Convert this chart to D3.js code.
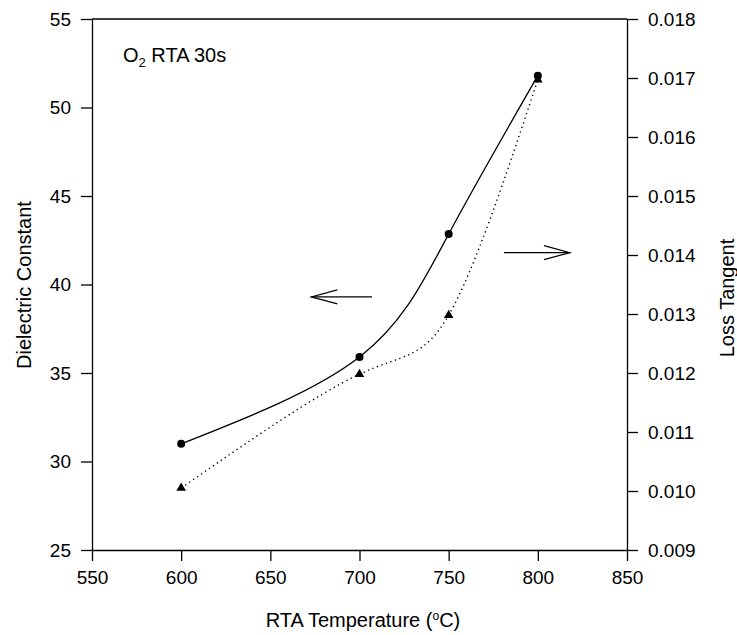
<!DOCTYPE html>
<html>
<head>
<meta charset="utf-8">
<script src="https://cdn.jsdelivr.net/npm/d3@7"></script>
<style>
  body { margin: 0; background: #fff; }
  svg { font-family: Arial, "Liberation Sans", sans-serif; }
  .axis path, .axis line { stroke: #000; stroke-width: 1.3; }
  .axis text { font-size: 19px; fill: #000; }
</style>
</head>
<body>
<div id="chart"></div>
<script>
// data
const temps = [600, 700, 750, 800]
const dielectric = [31.0, 35.9, 42.85, 51.8]
const lossTangent = [0.01005, 0.01198, 0.01298, 0.01697]

const xTicks = [550, 600, 650, 700, 750, 800, 850]
const yLeftTicks = [25, 30, 35, 40, 45, 50, 55]
const yRightTicks = [0.009, 0.010, 0.011, 0.012, 0.013, 0.014, 0.015, 0.016, 0.017, 0.018]

// arrows: [x1, x2, dielectric-scale y]
const leftArrow = [707, 673, 39.3]
const rightArrow = [781, 818, 41.8]

const W = 737, H = 635
const margin = { top: 19, right: 110, bottom: 85, left: 92 }
const width = W - margin.left - margin.right
const height = H - margin.top - margin.bottom

const svg = d3.select('#chart').append('svg')
    .attr('width', W)
    .attr('height', H)
const g = svg.append('g')
    .attr('transform', `translate(${margin.left},${margin.top})`)

const x = d3.scaleLinear().domain([550, 850]).range([0, width])
const yL = d3.scaleLinear().domain([25, 55]).range([height, 0])
const yR = d3.scaleLinear().domain([0.009, 0.018]).range([height, 0])

// axes
g.append('g')
    .attr('class', 'axis')
    .attr('transform', `translate(0,${height})`)
    .call(d3.axisBottom(x).tickValues(xTicks).tickSize(11).tickSizeOuter(0).tickPadding(10))
g.append('g')
    .attr('class', 'axis')
    .call(d3.axisLeft(yL).tickValues(yLeftTicks).tickSize(11).tickSizeOuter(0).tickPadding(10))
g.append('g')
    .attr('class', 'axis')
    .attr('transform', `translate(${width},0)`)
    .call(d3.axisRight(yR).tickValues(yRightTicks).tickFormat(d3.format('.3f')).tickSize(11).tickSizeOuter(0).tickPadding(10))
// top frame line
g.append('line')
    .attr('x1', 0).attr('x2', width)
    .attr('y1', 0).attr('y2', 0)
    .attr('stroke', '#000').attr('stroke-width', 1.3)

// lines
const lineL = d3.line()
    .curve(d3.curveNatural)
    .x((d, i) => x(temps[i]))
    .y(d => yL(d))
const lineR = d3.line()
    .curve(d3.curveNatural)
    .x((d, i) => x(temps[i]))
    .y(d => yR(d))

g.append('path')
    .attr('d', lineL(dielectric))
    .attr('fill', 'none').attr('stroke', '#000').attr('stroke-width', 1.3)
g.append('path')
    .attr('d', lineR(lossTangent))
    .attr('fill', 'none').attr('stroke', '#000').attr('stroke-width', 1.4)
    .attr('stroke-dasharray', '1.3,3.5')

g.selectAll('.dot').data(dielectric).join('circle')
    .attr('cx', (d, i) => x(temps[i]))
    .attr('cy', d => yL(d))
    .attr('r', 4)
    .attr('fill', '#000')
g.selectAll('.tri').data(lossTangent).join('path')
    .attr('d', d3.symbol(d3.symbolTriangle, 40))
    .attr('transform', (d, i) => `translate(${x(temps[i])},${yR(d)})`)
    .attr('fill', '#000')

// arrows
function arrow(a) {
  const x1 = x(a[0]), x2 = x(a[1]), yy = yL(a[2])
  const dir = Math.sign(x2 - x1)
  g.append('line')
      .attr('x1', x1).attr('x2', x2).attr('y1', yy).attr('y2', yy)
      .attr('stroke', '#000').attr('stroke-width', 1.2)
  g.append('path')
      .attr('d', `M${x2 - dir * 26},${yy - 7}L${x2},${yy}L${x2 - dir * 26},${yy + 7}`)
      .attr('fill', 'none').attr('stroke', '#000').attr('stroke-width', 1.2)
}
arrow(leftArrow)
arrow(rightArrow)

// annotation
const ann = g.append('text')
    .attr('x', 31).attr('y', 43)
    .attr('font-size', 20)
ann.append('tspan').text('O')
ann.append('tspan').attr('font-size', 13).attr('dy', 5).text('2')
ann.append('tspan').attr('dy', -5).text(' RTA 30s')

// axis titles
svg.append('text')
    .attr('x', 363).attr('y', 627)
    .attr('text-anchor', 'middle').attr('font-size', 20)
    .html('RTA Temperature (<tspan dy="-7" font-size="12">o</tspan><tspan dy="7">C)</tspan>')
svg.append('text')
    .attr('transform', 'translate(31,285) rotate(-90)')
    .attr('text-anchor', 'middle').attr('font-size', 20)
    .text('Dielectric Constant')
svg.append('text')
    .attr('transform', 'translate(734,298) rotate(-90)')
    .attr('text-anchor', 'middle').attr('font-size', 20)
    .text('Loss Tangent')
</script>
</body>
</html>
